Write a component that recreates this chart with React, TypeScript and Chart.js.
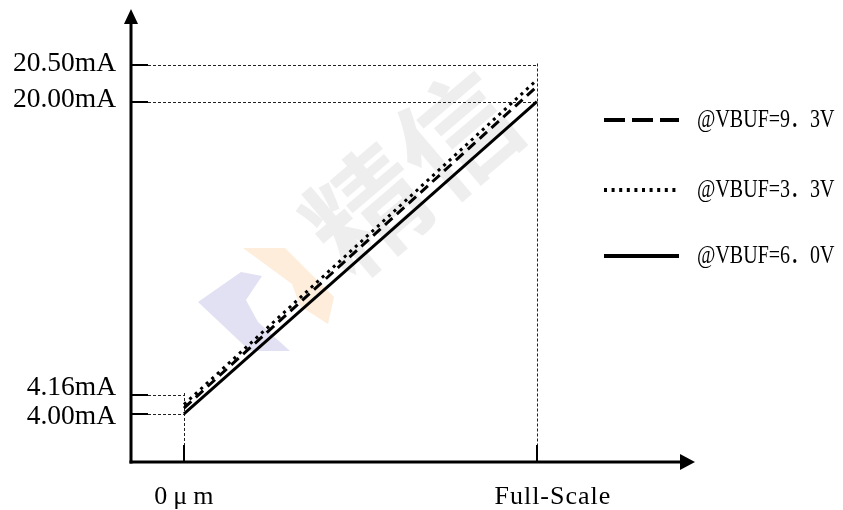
import React, { useEffect, useRef } from 'react';
import { Chart, registerables, LinearScale } from 'chart.js';

Chart.register(...registerables);

// ---------- data ----------
const xTickValues = [0, 100];
const xTickLabels = ['0μm', 'Full-Scale'];
const yTickValues = [4.0, 4.16, 20.0, 20.5];
const yTickLabels = ['4.00mA', '4.16mA', '20.00mA', '20.50mA'];
const yGuideTargets = [0, 0, 100, 100];
const seriesLabels = ['@VBUF=9．3V', '@VBUF=3．3V', '@VBUF=6．0V'];
const xPoints = [0, 100];
const vbuf93 = [4.05, 20.21];
const vbuf33 = [4.08, 20.3];
const vbuf60 = [4.0, 20.0];

// schematic (non-uniform) axis: where each y tick value sits along the axis
const yAxisFractions = [0.106, 0.1479, 0.7954, 0.8753];

function toDecimal(v: number) {
  const vs = yTickValues, fs = yAxisFractions;
  let i = 0;
  if (v >= vs[vs.length - 1]) i = vs.length - 2;
  else if (v > vs[0]) { while (v > vs[i + 1]) i++; }
  return fs[i] + ((v - vs[i]) * (fs[i + 1] - fs[i])) / (vs[i + 1] - vs[i]);
}
function fromDecimal(d: number) {
  const vs = yTickValues, fs = yAxisFractions;
  let i = 0;
  if (d >= fs[fs.length - 1]) i = fs.length - 2;
  else if (d > fs[0]) { while (d > fs[i + 1]) i++; }
  return vs[i] + ((d - fs[i]) * (vs[i + 1] - vs[i])) / (fs[i + 1] - fs[i]);
}

class SchematicScale extends LinearScale {
  static id = 'schematic';
  getPixelForValue(value: number) {
    if (value === null || value === undefined || isNaN(value)) return NaN;
    return this.getPixelForDecimal(toDecimal(value));
  }
  getValueForPixel(pixel: number) {
    return fromDecimal(this.getDecimalForPixel(pixel));
  }
}
Chart.register(SchematicScale as any);

const plotDash = [[10, 6], [3, 4.5], []];
const legendDash = [[21, 7], [3, 4.6], []];

const SERIF = '"Liberation Serif", "Times New Roman", serif';

function line(ctx: CanvasRenderingContext2D, x1: number, y1: number, x2: number, y2: number) {
  ctx.beginPath();
  ctx.moveTo(x1, y1);
  ctx.lineTo(x2, y2);
  ctx.stroke();
}

const schematicPlugin = {
  id: 'schematicPlugin',
  beforeDatasetsDraw(chart: any) {
    const { ctx, chartArea: a, scales } = chart;
    const x = scales.x, y = scales.y;
    const TICK = 17;

    // faint watermark
    ctx.save();
    ctx.fillStyle = 'rgba(205,205,235,0.6)';
    ctx.beginPath();
    ctx.moveTo(241, 272); ctx.lineTo(198, 302); ctx.lineTo(250, 351); ctx.lineTo(290, 351);
    ctx.lineTo(258, 322); ctx.lineTo(246, 300); ctx.lineTo(262, 276); ctx.closePath();
    ctx.fill();
    ctx.fillStyle = 'rgba(251,222,188,0.55)';
    ctx.beginPath();
    ctx.moveTo(243, 248); ctx.lineTo(285, 248); ctx.lineTo(334, 297); ctx.lineTo(328, 324);
    ctx.lineTo(300, 306); ctx.lineTo(292, 284); ctx.closePath();
    ctx.fill();
    ctx.translate(412, 172);
    ctx.rotate(-Math.PI / 4 + 0.08);
    ctx.font = 'bold 118px "Noto Sans CJK SC"';
    ctx.fillStyle = 'rgba(0,0,0,0.065)';
    ctx.textAlign = 'center';
    ctx.textBaseline = 'middle';
    ctx.fillText('精信', 0, 0);
    ctx.restore();

    // dotted guide lines
    ctx.save();
    ctx.strokeStyle = '#222';
    ctx.lineWidth = 1;
    ctx.setLineDash([3, 2]);
    yTickValues.forEach((v, i) => {
      const py = Math.round(y.getPixelForValue(v)) + 0.5;
      line(ctx, a.left + TICK, py, x.getPixelForValue(yGuideTargets[i]), py);
    });
    xTickValues.forEach((xv) => {
      const px = Math.round(x.getPixelForValue(xv)) + 0.5;
      const tops = yTickValues.filter((_, i) => yGuideTargets[i] === xv);
      if (!tops.length) return;
      const topY = y.getPixelForValue(Math.max(...tops)) - 2;
      line(ctx, px, topY, px, a.bottom - TICK);
    });
    ctx.restore();
  },
  afterDatasetsDraw(chart: any) {
    const { ctx, chartArea: a, scales } = chart;
    const x = scales.x, y = scales.y;
    const TICK = 17;
    ctx.save();
    ctx.strokeStyle = '#000';
    ctx.fillStyle = '#000';
    ctx.setLineDash([]);

    // axes
    ctx.lineWidth = 3;
    line(ctx, a.left, a.bottom + 1.5, a.left, a.top + 14);
    line(ctx, a.left - 1.5, a.bottom, a.right - 14, a.bottom);
    ctx.beginPath();
    ctx.moveTo(a.left, a.top);
    ctx.lineTo(a.left - 7, a.top + 15);
    ctx.lineTo(a.left + 7, a.top + 15);
    ctx.closePath();
    ctx.fill();
    ctx.beginPath();
    ctx.moveTo(a.right, a.bottom);
    ctx.lineTo(a.right - 15, a.bottom - 8);
    ctx.lineTo(a.right - 15, a.bottom + 8);
    ctx.closePath();
    ctx.fill();

    // tick marks
    ctx.lineWidth = 2;
    yTickValues.forEach((v) => {
      const py = Math.round(y.getPixelForValue(v));
      line(ctx, a.left, py, a.left + TICK, py);
    });
    xTickValues.forEach((v) => {
      const px = Math.round(x.getPixelForValue(v));
      line(ctx, px, a.bottom, px, a.bottom - TICK);
    });

    // y labels (pushed apart when too close)
    ctx.font = '27.5px ' + SERIF;
    ctx.textAlign = 'right';
    ctx.textBaseline = 'middle';
    const ys = yTickValues.map((v) => y.getPixelForValue(v) - 2);
    const MIN = 29;
    for (let i = 0; i < ys.length - 1; i++) {
      const d = ys[i] - ys[i + 1];
      if (d < MIN) {
        const mid = (ys[i] + ys[i + 1]) / 2;
        ys[i] = mid + MIN / 2;
        ys[i + 1] = mid - MIN / 2;
      }
    }
    yTickLabels.forEach((t, i) => ctx.fillText(t, a.left - 15, ys[i]));

    // x labels
    ctx.font = '26px ' + SERIF;
    ctx.textAlign = 'center';
    xTickLabels.forEach((t, i) => {
      const px = x.getPixelForValue(xTickValues[i]);
      (ctx as any).letterSpacing = i === 0 ? '6px' : '1px';
      ctx.fillText(t, px + (i === 0 ? 3 : 16), a.bottom + 35);
    });
    (ctx as any).letterSpacing = '0px';

    // legend
    const rows = [120, 190, 256];
    chart.data.datasets.forEach((ds: any, i: number) => {
      const ly = rows[i];
      ctx.lineWidth = 4;
      ctx.setLineDash(legendDash[i]);
      line(ctx, 604, ly, 679, ly);
      ctx.setLineDash([]);
      ctx.save();
      ctx.translate(697, ly);
      ctx.scale(0.8, 1);
      ctx.font = '25px "Liberation Serif", "Noto Sans CJK JP"';
      ctx.textAlign = 'left';
      ctx.textBaseline = 'middle';
      ctx.fillText(ds.label, 0, 0);
      ctx.restore();
    });
    ctx.restore();
  },
};

export default function App() {
  const ref = useRef<HTMLCanvasElement>(null);
  useEffect(() => {
    const series = [vbuf93, vbuf33, vbuf60];
    const chart = new Chart(ref.current!, {
      type: 'line',
      data: {
        datasets: series.map((s, i) => ({
          label: seriesLabels[i],
          data: xPoints.map((xv, j) => ({ x: xv, y: s[j] })),
          borderColor: '#000',
          borderWidth: 3,
          borderDash: plotDash[i],
          borderCapStyle: 'butt',
          pointRadius: 0,
          fill: false,
        })),
      },
      options: {
        animation: false,
        responsive: false,
        layout: { padding: { left: 131, right: 148, top: 9, bottom: 48 } },
        scales: {
          x: { type: 'linear', min: -15.0, max: 144.8, display: false },
          y: { type: 'schematic' as any, min: 0, max: 25, display: false },
        },
        plugins: { legend: { display: false }, tooltip: { enabled: false } },
      },
      plugins: [schematicPlugin],
    } as any);
    return () => chart.destroy();
  }, []);
  return (
    <div style={{ position: 'fixed', left: 0, top: 0, width: 843, height: 510, background: '#fff' }}>
      <canvas ref={ref} width={843} height={510} style={{ width: 843, height: 510 }} />
    </div>
  );
}
